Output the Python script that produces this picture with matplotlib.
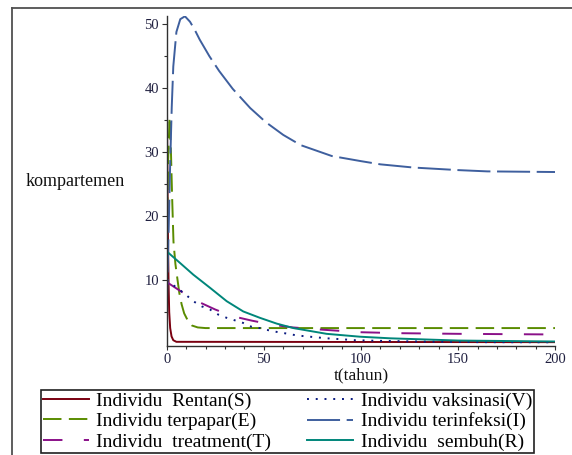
import matplotlib
matplotlib.use('Agg')
import matplotlib.pyplot as plt
from matplotlib.lines import Line2D
from matplotlib.ticker import MultipleLocator, FixedLocator

plt.rcParams['font.family'] = ['Liberation Serif', 'DejaVu Serif']

# Data (t in years)
S_t = [0, 0.3, 0.6, 1.0, 1.3, 1.8, 2.5, 3.4, 5, 200]
S = [45, 30, 18, 9, 5, 2.5, 1.2, 0.6, 0.35, 0.3]

E_t = [0, 0.7, 1.5, 2.2, 2.8, 3.5, 4.5, 5.6, 6.5, 7.7, 9, 11, 13, 16, 20, 200]
E = [16, 28, 35.5, 30, 23, 16, 12.5, 10, 8, 6.2, 4.8, 3.6, 2.9, 2.6, 2.5, 2.5]

T_t = [0, 1, 7, 15, 20, 25, 34, 44, 55, 65, 80, 100, 120, 150, 200]
T = [9.8, 9.5, 8.3, 6.8, 6.1, 5.4, 4.35, 3.65, 3.0, 2.6, 2.25, 1.85, 1.7, 1.6, 1.5]

V_t = [0, 3, 7, 10.3, 13.7, 18, 22.3, 26.6, 30.9, 35.2, 39.4, 43.7, 48, 53.2,
       57.5, 62.6, 66.9, 72, 77.2, 82.3, 87.5, 92.6, 97, 110, 130, 160, 200]
V = [10, 9.3, 8.4, 7.6, 6.7, 5.9, 5.4, 4.6, 4.1, 3.7, 3.3, 2.7, 2.5, 2.1,
     1.85, 1.6, 1.35, 1.2, 1.05, 0.9, 0.8, 0.7, 0.6, 0.5, 0.4, 0.3, 0.28]

I_t = [0, 0.8, 1.7, 2.6, 3.4, 5, 7, 9.4, 12, 14.5, 17, 22, 27, 34, 43, 51, 60,
       69, 85, 100, 110, 127, 150, 165, 200]
I = [5, 15, 27, 37, 43.4, 48.8, 50.8, 51.25, 50.4, 49.1, 47.6, 45.0, 42.7,
     39.9, 36.9, 34.7, 32.7, 31.1, 29.4, 28.6, 28.1, 27.6, 27.2, 27.0, 26.9]

R_t = [0, 6.8, 13.7, 22.3, 30.9, 39.4, 48, 56.6, 65.2, 82.3, 99.5, 115, 150, 200]
R = [14.5, 12.7, 10.85, 8.8, 6.7, 5.1, 4.1, 3.2, 2.5, 1.6, 1.15, 0.9, 0.55, 0.4]

labels = {
    'S': 'Individu  Rentan(S)',
    'E': 'Individu terpapar(E)',
    'T': 'Individu  treatment(T)',
    'V': 'Individu vaksinasi(V)',
    'I': 'Individu terinfeksi(I)',
    'R': 'Individu  sembuh(R)',
}

fig = plt.figure(figsize=(5.72, 4.55), dpi=100)
fig.patch.set_facecolor('white')
ax = fig.add_axes([0.2914, 0.2396, 0.6794, 0.7253])

lw = 1.4
hS, = ax.plot(S_t, S, color='#7a0010', lw=lw, label=labels['S'])
hE, = ax.plot(E_t, E, color='#5a8c00', lw=lw, linestyle=(0, (9.5, 3.8)), label=labels['E'])
hT, = ax.plot(T_t, T, color='#8a1088', lw=lw, linestyle=(0, (10, 11)), label=labels['T'])
hV, = ax.plot(V_t, V, color='#0a1a80', lw=lw, linestyle=(0, (1, 3.5)), label=labels['V'])
hI, = ax.plot(I_t, I, color='#3e5f9e', lw=lw, linestyle=(0, (17, 3.4)), label=labels['I'])
hR, = ax.plot(R_t, R, color='#00867a', lw=lw, label=labels['R'])

ax.set_xlim(0, 200)
ax.set_ylim(-0.3, 51.3)

for side in ['top', 'right']:
    ax.spines[side].set_visible(False)
for side in ['left', 'bottom']:
    ax.spines[side].set_color('#303030')
    ax.spines[side].set_linewidth(1.0)

ax.xaxis.set_major_locator(FixedLocator([0, 50, 100, 150, 200]))
ax.xaxis.set_minor_locator(MultipleLocator(10))
ax.yaxis.set_major_locator(FixedLocator([10, 20, 30, 40, 50]))
ax.yaxis.set_minor_locator(FixedLocator([5, 15, 25, 35, 45]))

ax.tick_params(axis='x', which='major', direction='out', length=3, width=0.8,
               colors='#303030', pad=2, labelsize=10.5, labelcolor='#202040')
ax.tick_params(axis='x', which='minor', direction='out', length=2.2, width=0.8,
               colors='#303030')
ax.tick_params(axis='y', which='major', direction='out', length=3.6, width=0.8,
               colors='#303030', pad=2, labelsize=10.5, labelcolor='#202040')
ax.tick_params(axis='y', which='minor', direction='out', length=2.5, width=0.8,
               colors='#303030')

fig.text(26 / 572, 1 - 182 / 455, 'kompartemen', ha='left', va='center',
         fontsize=13, color='#101010')
fig.text(361 / 572, 1 - 375 / 455, 't(tahun)', ha='center', va='center',
         fontsize=12.5, color='#101010')

# outer frame (left and top edges only visible)
fig.add_artist(Line2D([12 / 572, 12 / 572], [0, 1 - 8 / 455],
                      transform=fig.transFigure, color='#505050', lw=1.3))
fig.add_artist(Line2D([12 / 572, 1], [1 - 8 / 455, 1 - 8 / 455],
                      transform=fig.transFigure, color='#505050', lw=1.3))

handles = [hS, hE, hT, hV, hI, hR]
leg = fig.legend(handles=handles, labels=[h.get_label() for h in handles],
                 ncol=2, loc='center', mode='expand',
                 bbox_to_anchor=(41 / 572, 3 / 455, 493 / 572, 61 / 455),
                 fontsize=14, handlelength=2.35, handletextpad=0.4,
                 labelspacing=0.14, borderpad=0.1, borderaxespad=0,
                 columnspacing=0.3, fancybox=False, framealpha=1)
leg.get_frame().set_edgecolor('#202020')
leg.get_frame().set_linewidth(1.2)

fig.savefig('out.png', dpi=100, facecolor='white')
